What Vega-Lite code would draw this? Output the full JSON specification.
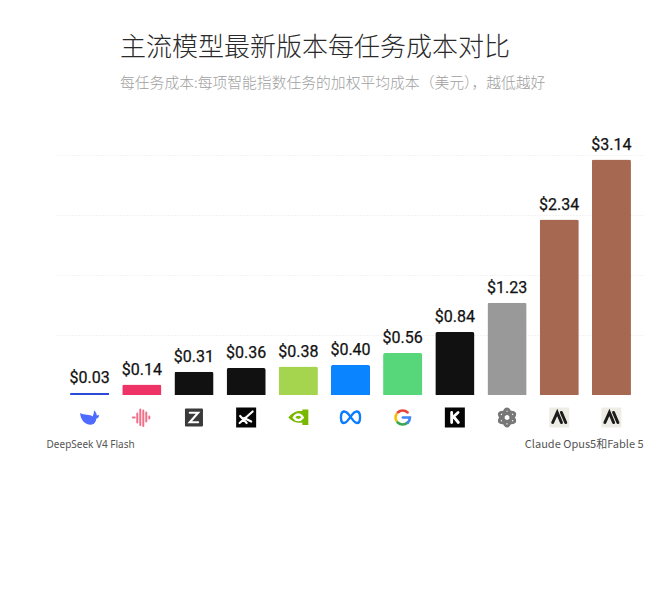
{
  "$schema": "https://vega.github.io/schema/vega-lite/v6.json",
  "width": 587,
  "height": 240,
  "autosize": "none",
  "padding": {"left": 58, "top": 155, "right": 17, "bottom": 199},
  "background": "white",
  "config": {"view": {"stroke": null}},
  "title": {
    "text": "主流模型最新版本每任务成本对比",
    "subtitle": "每任务成本:每项智能指数任务的加权平均成本（美元），越低越好",
    "anchor": "start",
    "frame": "group",
    "dx": 62,
    "offset": 46,
    "font": "Noto Sans CJK SC",
    "fontSize": 26,
    "fontWeight": 300,
    "color": "#2a2a2a",
    "subtitleFont": "Noto Sans CJK SC",
    "subtitleFontSize": 14.8,
    "subtitleFontWeight": 300,
    "subtitleColor": "#a0a0a0",
    "subtitlePadding": 15
  },
  "datasets": {
    "costs": [
      {"model": "DeepSeek V4 Flash", "cost": 0.03},
      {"model": "MiniMax", "cost": 0.14},
      {"model": "GLM", "cost": 0.31},
      {"model": "Grok", "cost": 0.36},
      {"model": "Nemotron", "cost": 0.38},
      {"model": "Muse", "cost": 0.40},
      {"model": "Gemini", "cost": 0.56},
      {"model": "Kimi", "cost": 0.84},
      {"model": "GPT", "cost": 1.23},
      {"model": "Claude Opus 5", "cost": 2.34},
      {"model": "Fable 5", "cost": 3.14}
    ],
    "iconFill": [
      {"model": "DeepSeek V4 Flash", "part": "whale"},
      {"model": "GLM", "part": "zhipuTile"},
      {"model": "Grok", "part": "blackTile"},
      {"model": "Nemotron", "part": "nvidiaEye"},
      {"model": "Kimi", "part": "blackTile"},
      {"model": "Claude Opus 5", "part": "beigeTile"},
      {"model": "Fable 5", "part": "beigeTile"}
    ],
    "iconStroke": [
      {"model": "MiniMax", "part": "wave"},
      {"model": "GLM", "part": "z"},
      {"model": "Grok", "part": "slash"},
      {"model": "Nemotron", "part": "nvidiaPupil"},
      {"model": "Muse", "part": "infinity"},
      {"model": "Gemini", "part": "gRed"},
      {"model": "Gemini", "part": "gYellow"},
      {"model": "Gemini", "part": "gGreen"},
      {"model": "Gemini", "part": "gBlue"},
      {"model": "Kimi", "part": "k"},
      {"model": "GPT", "part": "knot"},
      {"model": "Claude Opus 5", "part": "anthropic"},
      {"model": "Fable 5", "part": "anthropic"}
    ]
  },
  "encoding": {
    "x": {
      "field": "model",
      "type": "nominal",
      "sort": null,
      "axis": null,
      "scale": {
        "domain": ["DeepSeek V4 Flash", "MiniMax", "GLM", "Grok", "Nemotron", "Muse", "Gemini", "Kimi", "GPT", "Claude Opus 5", "Fable 5"],
        "range": [-1, 586],
        "paddingInner": 0.25,
        "paddingOuter": 0.25
      }
    }
  },
  "layer": [
    {
      "data": {"name": "costs"},
      "mark": {"type": "bar", "cornerRadiusEnd": 2},
      "encoding": {
        "y": {
          "field": "cost",
          "type": "quantitative",
          "scale": {"domain": [0, 3.2], "nice": false},
          "axis": {
            "values": [0.8, 1.6, 2.4, 3.2],
            "title": null,
            "labels": false,
            "ticks": false,
            "domain": false,
            "gridColor": "#e6e6e6",
            "gridDash": [1, 2]
          }
        },
        "color": {
          "field": "model",
          "type": "nominal",
          "legend": null,
          "scale": {
            "domain": ["DeepSeek V4 Flash", "MiniMax", "GLM", "Grok", "Nemotron", "Muse", "Gemini", "Kimi", "GPT", "Claude Opus 5", "Fable 5"],
            "range": ["#2b4bd6", "#ee3366", "#111111", "#111111", "#a5d44f", "#0a84ff", "#58d67a", "#111111", "#999999", "#a66850", "#a66850"]
          }
        }
      }
    },
    {
      "data": {"name": "costs"},
      "mark": {"type": "text", "baseline": "bottom", "dy": -7, "font": "Roboto", "fontSize": 16, "fontWeight": 400, "color": "#111111", "stroke": "#111111", "strokeWidth": 0.25},
      "encoding": {
        "y": {"field": "cost", "type": "quantitative", "scale": {"domain": [0, 3.2], "nice": false}},
        "text": {"field": "cost", "type": "quantitative", "format": "$.2f"}
      }
    },
    {
      "data": {"name": "iconFill"},
      "mark": {"type": "point", "filled": true, "size": 400, "opacity": 1, "strokeWidth": 0},
      "encoding": {
        "y": {"datum": -0.3, "scale": {"domain": [0, 3.2], "nice": false}},
        "shape": {
          "field": "part",
          "type": "nominal",
          "legend": null,
          "scale": {
            "domain": ["whale", "zhipuTile", "blackTile", "nvidiaEye", "beigeTile"],
            "range": [
              "M-0.95,-0.45 C-0.9,0.3 -0.4,0.72 0.1,0.72 C0.45,0.72 0.62,0.45 0.68,0.1 C0.82,0.1 0.95,-0.05 0.95,-0.25 L0.72,-0.2 C0.72,-0.45 0.55,-0.6 0.45,-0.7 C0.45,-0.5 0.4,-0.3 0.3,-0.1 C0.1,-0.35 -0.6,-0.2 -0.95,-0.45 Z",
              "M-0.8,-0.9 H0.8 Q0.9,-0.9 0.9,-0.8 V0.8 Q0.9,0.9 0.8,0.9 H-0.8 Q-0.9,0.9 -0.9,0.8 V-0.8 Q-0.9,-0.9 -0.8,-0.9 Z",
              "M-1,-1 H1 V1 H-1 Z",
              "M-1,0 C-0.6,-0.55 -0.1,-0.7 0.4,-0.65 L0.4,-0.8 L1,-0.8 L1,0.75 L0.4,0.75 L0.4,0.5 C-0.1,0.6 -0.6,0.45 -1,0 Z",
              "M-1,-1 H1 V1 H-1 Z"
            ]
          }
        },
        "color": {
          "field": "part",
          "type": "nominal",
          "legend": null,
          "scale": {
            "domain": ["whale", "zhipuTile", "blackTile", "nvidiaEye", "beigeTile"],
            "range": ["#4d6bfe", "#3a3a3a", "#050505", "#7ab800", "#eeede5"]
          }
        }
      }
    },
    {
      "data": {"name": "iconStroke"},
      "mark": {"type": "point", "filled": false, "size": 400, "opacity": 1, "strokeCap": "round"},
      "encoding": {
        "y": {"datum": -0.3, "scale": {"domain": [0, 3.2], "nice": false}},
        "shape": {
          "field": "part",
          "type": "nominal",
          "legend": null,
          "scale": {
            "domain": ["wave", "z", "slash", "nvidiaPupil", "infinity", "gRed", "gYellow", "gGreen", "gBlue", "k", "knot", "anthropic"],
            "range": [
              "M-0.9,0 L-0.7,0 M-0.45,-0.4 V0.5 M-0.15,-0.8 V0.75 M0.15,-0.7 V0.85 M0.45,-0.5 V0.4 M0.75,-0.1 V0.1",
              "M-0.42,-0.48 H0.42 L-0.42,0.48 H0.42",
              "M-0.6,-0.15 L0.05,0.55 M0.65,-0.6 L-0.65,0.55 M-0.2,0.05 L0.5,0.4",
              "M-0.45,0 C-0.2,-0.4 0.2,-0.4 0.45,0 C0.2,0.35 -0.2,0.35 -0.45,0 Z",
              "M0,-0.05 C-0.3,-0.55 -0.5,-0.62 -0.68,-0.6 C-1.05,-0.5 -1.05,0.55 -0.65,0.55 C-0.35,0.55 -0.1,0 0,-0.05 C0.3,-0.55 0.5,-0.62 0.68,-0.6 C1.05,-0.5 1.05,0.55 0.65,0.55 C0.35,0.55 0.1,0 0,-0.05 Z",
              "M-0.5,-0.5 A0.72,0.72 0 0 1 0.5,-0.5",
              "M-0.62,-0.34 A0.72,0.72 0 0 0 -0.62,0.34",
              "M-0.5,0.5 A0.72,0.72 0 0 0 0.5,0.5",
              "M0.02,0 H0.72 A0.72,0.72 0 0 1 0.52,0.5",
              "M-0.32,-0.5 V0.5 M0.32,-0.5 L-0.3,0.08 M-0.1,-0.05 L0.35,0.5",
              "M0,-0.85 A0.38,0.85 0 1 1 0,0.85 A0.38,0.85 0 1 1 0,-0.85 M0.74,-0.43 A0.38,0.85 60 1 1 -0.74,0.43 A0.38,0.85 60 1 1 0.74,-0.43 M0.74,0.43 A0.38,0.85 120 1 1 -0.74,-0.43 A0.38,0.85 120 1 1 0.74,0.43",
              "M-0.65,0.5 L-0.2,-0.5 L0.22,0.5 M0.22,-0.5 L0.65,0.5"
            ]
          }
        },
        "color": {
          "field": "part",
          "type": "nominal",
          "legend": null,
          "scale": {
            "domain": ["wave", "z", "slash", "nvidiaPupil", "infinity", "gRed", "gYellow", "gGreen", "gBlue", "k", "knot", "anthropic"],
            "range": ["#f0708a", "#ffffff", "#ffffff", "#ffffff", "#0a7cff", "#ea4335", "#fbbc05", "#34a853", "#4285f4", "#ffffff", "#777777", "#1c1c1c"]
          }
        },
        "strokeWidth": {
          "field": "part",
          "type": "ordinal",
          "legend": null,
          "scale": {
            "domain": ["wave", "z", "slash", "nvidiaPupil", "infinity", "gRed", "gYellow", "gGreen", "gBlue", "k", "knot", "anthropic"],
            "range": [2, 3, 1, 1.5, 2.6, 3, 3, 3, 3, 2.8, 0.9, 2.6]
          }
        }
      }
    },
    {
      "data": {"values": [{"model": "DeepSeek V4 Flash", "caption": "DeepSeek V4 Flash"}]},
      "mark": {"type": "text", "font": "Noto Sans", "fontSize": 10, "dx": 1, "color": "#555555"},
      "encoding": {
        "y": {"datum": -0.66, "scale": {"domain": [0, 3.2], "nice": false}},
        "text": {"field": "caption"}
      }
    },
    {
      "data": {"values": [{"model": "Claude Opus 5", "caption": "Claude Opus5和Fable 5"}]},
      "mark": {"type": "text", "font": "Noto Sans CJK SC", "fontSize": 11, "dx": 25, "color": "#555555"},
      "encoding": {
        "y": {"datum": -0.66, "scale": {"domain": [0, 3.2], "nice": false}},
        "text": {"field": "caption"}
      }
    }
  ],
  "resolve": {"scale": {"color": "independent", "shape": "independent"}}
}
